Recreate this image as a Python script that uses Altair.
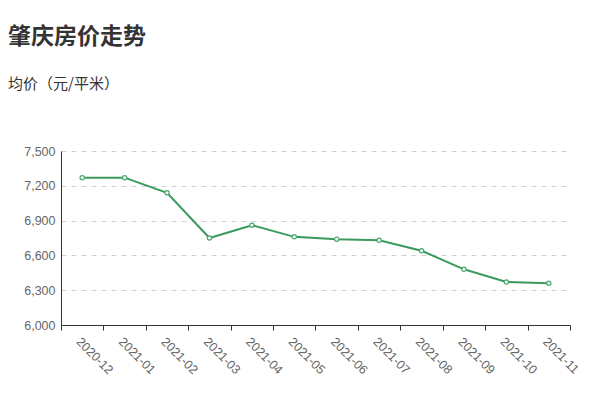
import altair as alt
import pandas as pd

months = ["2020-12", "2021-01", "2021-02", "2021-03", "2021-04", "2021-05",
          "2021-06", "2021-07", "2021-08", "2021-09", "2021-10", "2021-11"]
prices = [7270, 7270, 7140, 6750, 6860, 6760, 6740, 6730, 6640, 6480, 6370, 6360]

df = pd.DataFrame({"month": months, "price": prices})

x = alt.X("month:O", sort=months, title=None,
          scale=alt.Scale(paddingInner=0, paddingOuter=0),
          axis=alt.Axis(labelAngle=45, labelAlign="left", labelBaseline="top",
                        tickBand="extent", tickSize=5, tickColor="#333",
                        domainColor="#333", labelColor="#666", labelFontSize=12.5,
                        labelFont="Liberation Sans", labelPadding=5, grid=False))
y = alt.Y("price:Q", title=None,
          scale=alt.Scale(domain=[6000, 7500], nice=False, zero=False),
          axis=alt.Axis(values=[6000, 6300, 6600, 6900, 7200, 7500], format=",.0f",
                        ticks=False, tickSize=0, tickOpacity=0, domainColor="#333",
                        labelColor="#666", labelFontSize=12.5, labelFont="Liberation Sans",
                        labelPadding=6, gridDash=[5, 5], gridColor="#d0d0d0"))

line = alt.Chart(df).mark_line(color="#3a9a5e", strokeWidth=2).encode(x=x, y=y)
pts = alt.Chart(df).mark_point(filled=True, fill="white", stroke="#4aa86e",
                               strokeWidth=1.2, size=18, opacity=1).encode(x=x, y=y)

chart = alt.layer(line, pts).properties(
    width=509, height=174,
    autosize=alt.AutoSizeParams(type="none"),
    padding={"left": 53, "top": 143, "right": 22, "bottom": 67},
    title=alt.TitleParams(
        text="肇庆房价走势", subtitle="均价（元/平米）",
        anchor="start", frame="group", dx=-53, offset=53,
        font="Noto Sans CJK SC", fontSize=23, fontWeight="bold", color="#333",
        subtitleFont="Noto Sans CJK SC", subtitleFontSize=15, subtitleColor="#333",
        subtitlePadding=28),
).configure_view(stroke=None)

chart.save("out.html", embed_options={"renderer": "svg", "actions": False})
